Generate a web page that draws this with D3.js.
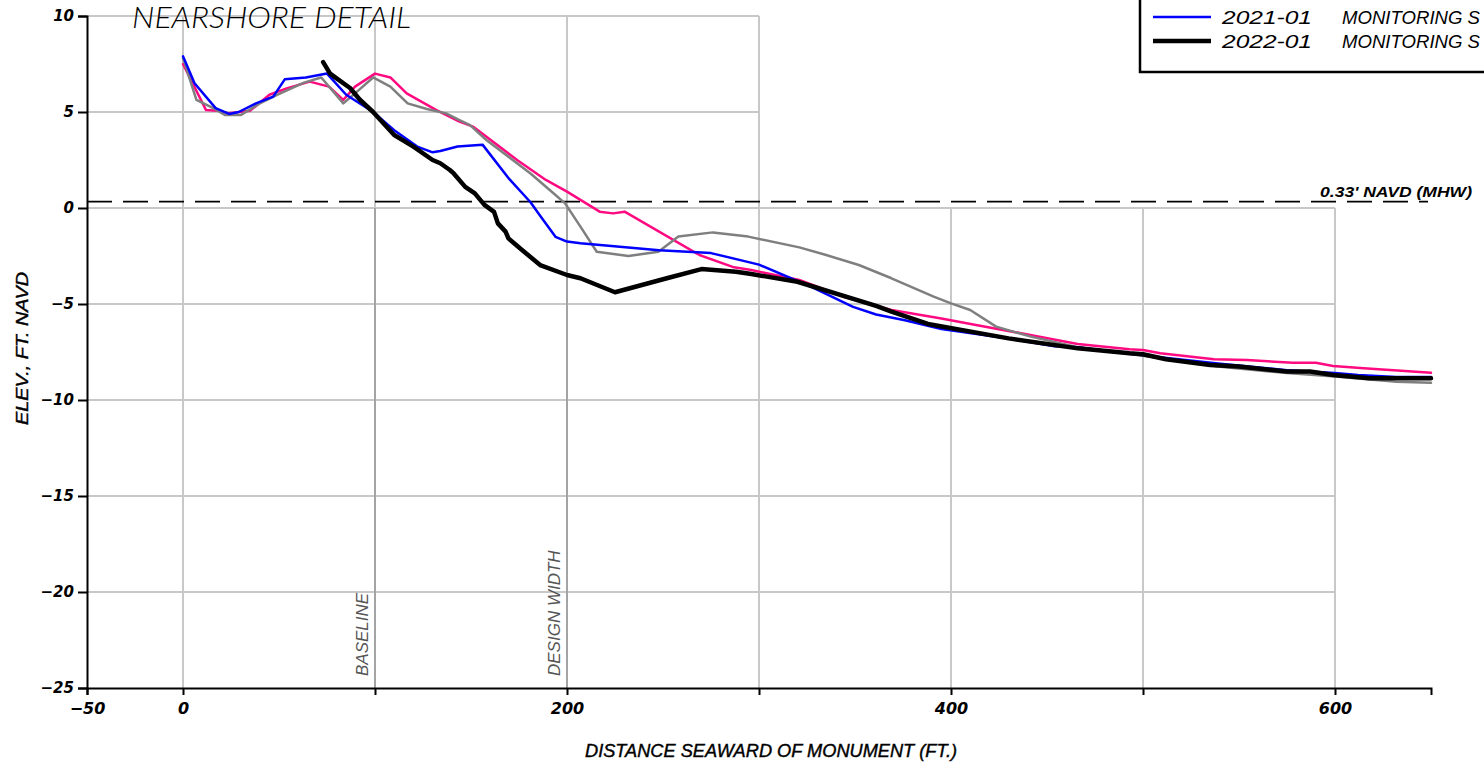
<!DOCTYPE html>
<html>
<head>
<meta charset="utf-8">
<script src="https://cdn.jsdelivr.net/npm/d3@7"></script>
<style>
  html, body { margin: 0; padding: 0; background: #fff; overflow: hidden; }
  svg { display: block; }
  text { font-family: 'Liberation Sans', Arial, sans-serif; font-style: italic; }
</style>
</head>
<body>
<svg id="chart" width="1484" height="765"></svg>
<script>
// ---------------- DATA ----------------
const titleText = "NEARSHORE  DETAIL";
const xLabel = "DISTANCE  SEAWARD  OF  MONUMENT  (FT.)";
const yLabel = "ELEV.,  FT.  NAVD";
const xDomain = [-50, 650];
const yDomain = [-25, 10];
const xTickValues = [-50, 0, 100, 200, 300, 400, 500, 600];
const xTickLabels = ["−50", "0", "", "200", "", "400", "", "600"];
const yTickValues = [10, 5, 0, -5, -10, -15, -20, -25];
const gridXValues = [0, 100, 200, 300, 400, 500, 600];
const gridYValues = [10, 5, 0, -5, -10, -15, -20];
const mhwElevation = 0.33;
const mhwLabel = "0.33'  NAVD  (MHW)";
const refLines = [ { x: 100, label: "BASELINE" }, { x: 200, label: "DESIGN  WIDTH" } ];

// distance (ft), elevation (ft NAVD)
const surveyPink = [[0,7.5],[12,5.1],[18,5.07],[24,4.93],[35,5.07],[45,5.9],[54,6.23],[66,6.58],[76,6.32],[83.5,5.63],[89.6,6.32],[100,7.0],[108,6.8],[116.5,5.97],[132,5.1],[144,4.5],[151,4.24],[174,2.5],[189,1.46],[200,0.85],[207,0.42],[217,-0.19],[224,-0.28],[230,-0.19],[269,-2.45],[287,-3.09],[296,-3.23],[321,-3.75],[344,-4.62],[369,-5.31],[395,-5.75],[413,-6.09],[432,-6.44],[466,-7.08],[493,-7.36],[500,-7.4],[509,-7.57],[537,-7.88],[554,-7.92],[578,-8.06],[590,-8.06],[599,-8.23],[615,-8.35],[650,-8.58]];
const surveyGray = [[0,7.8],[7,5.63],[16,5.19],[22,4.84],[30,4.84],[40,5.45],[49,5.89],[63,6.53],[72,6.8],[83.5,5.45],[89.6,5.97],[99,6.8],[108,6.32],[117,5.45],[127,5.16],[137,4.93],[144,4.58],[149.5,4.32],[158,3.54],[181,1.8],[191,0.94],[199,0.24],[207,-0.97],[215.5,-2.28],[232,-2.5],[247.6,-2.28],[258,-1.49],[276,-1.27],[294.4,-1.49],[321,-2.05],[335,-2.45],[352,-2.97],[369,-3.66],[391,-4.62],[400,-4.97],[410,-5.31],[423.5,-6.18],[441.6,-6.7],[466,-7.25],[500,-7.7],[539,-8.26],[575,-8.6],[600,-8.78],[632,-9.05],[650,-9.1]];
const survey2021 = [[0,7.9],[6,6.5],[17,5.2],[24,4.9],[29,5.0],[38,5.45],[47,5.8],[53,6.7],[64,6.8],[75,7.0],[85,5.9],[99,5.0],[110,4.05],[122,3.2],[130,2.9],[134,2.97],[143,3.2],[156,3.3],[170,1.5],[181,0.3],[186,-0.4],[194,-1.5],[200,-1.75],[207,-1.84],[248,-2.2],[275,-2.35],[300,-2.95],[327,-4.1],[349,-5.15],[361,-5.55],[376,-5.85],[395,-6.3],[430,-6.8],[454,-7.2],[466,-7.25],[498,-7.65],[539,-8.1],[575,-8.45],[600,-8.6],[612,-8.7],[632,-8.8],[650,-8.8]];
const survey2022 = [[73,7.6],[76.6,7.0],[80,6.75],[87,6.25],[92,5.65],[99,5.0],[110,3.8],[120,3.2],[130,2.5],[134,2.33],[139,1.98],[141,1.8],[147,1.1],[152,0.76],[157,0.16],[162,-0.2],[164,-0.8],[168,-1.23],[169.5,-1.58],[175.5,-2.1],[186,-2.97],[200,-3.49],[207,-3.66],[225,-4.39],[252,-3.66],[270,-3.18],[288,-3.32],[296,-3.44],[320,-3.84],[361,-5.1],[369,-5.4],[388,-6.04],[430,-6.79],[466,-7.31],[493,-7.57],[500,-7.62],[512,-7.88],[535,-8.18],[550,-8.26],[575,-8.52],[587,-8.52],[599,-8.7],[618,-8.87],[650,-8.87]];

const seriesNames = ["pink", "gray", "2021-01", "2022-01"];
const seriesData = [surveyPink, surveyGray, survey2021, survey2022];
const legendDates = ["2021-01", "2022-01"];
const legendText = "MONITORING  S";

// ---------------- STYLE ----------------
const seriesStyle = {
  "pink":    { color: "#ff0a80", width: 2.5 },
  "gray":    { color: "#7f7f7f", width: 2.5 },
  "2021-01": { color: "#0000ff", width: 2.5 },
  "2022-01": { color: "#000000", width: 4.5 }
};
const tickFont = "'DejaVu Sans', 'Liberation Sans', sans-serif";

const svg = d3.select("#chart");
const x = d3.scaleLinear().domain(xDomain).range([87, 1431]);
const y = d3.scaleLinear().domain(yDomain).range([688, 16]);

// grid
const grid = svg.append("g");
gridYValues.forEach(v => {
  grid.append("line")
    .attr("x1", x(-50)).attr("x2", v > 0 ? x(300) : x(600))
    .attr("y1", y(v)).attr("y2", y(v))
    .attr("stroke", "#c8c8c8").attr("stroke-width", 2);
});
gridXValues.forEach(v => {
  grid.append("line")
    .attr("x1", x(v)).attr("x2", x(v))
    .attr("y1", v <= 300 ? y(10) : y(0)).attr("y2", y(-25))
    .attr("stroke", "#c8c8c8").attr("stroke-width", 2);
});

// reference lines (baseline, design width)
refLines.forEach(r => {
  svg.append("line")
    .attr("x1", x(r.x)).attr("x2", x(r.x))
    .attr("y1", y(0)).attr("y2", y(-25))
    .attr("stroke", "#a4a4a4").attr("stroke-width", 2);
  svg.append("text")
    .attr("transform", `translate(${x(r.x) - 7},${y(-25) - 12}) rotate(-90)`)
    .attr("font-size", 17).attr("fill", "#555")
    .text(r.label);
});

// MHW dashed line
svg.append("line")
  .attr("x1", x(-50)).attr("x2", 1428)
  .attr("y1", y(mhwElevation)).attr("y2", y(mhwElevation))
  .attr("stroke", "#000").attr("stroke-width", 1.8)
  .attr("stroke-dasharray", "25,11");
svg.append("text")
  .attr("x", 1320).attr("y", y(mhwElevation) - 5)
  .attr("font-size", 15).attr("font-weight", "bold")
  .attr("textLength", 152).attr("lengthAdjust", "spacingAndGlyphs")
  .text(mhwLabel);

// series lines
const line = d3.line().x(d => x(d[0])).y(d => y(d[1]));
seriesData.forEach((data, i) => {
  const st = seriesStyle[seriesNames[i]];
  svg.append("path")
    .datum(data)
    .attr("d", line)
    .attr("fill", "none")
    .attr("stroke", st.color)
    .attr("stroke-width", st.width)
    .attr("stroke-linejoin", "round")
    .attr("stroke-linecap", "round");
});

// axes
const xAxis = d3.axisBottom(x).tickValues(xTickValues)
  .tickFormat((d, i) => xTickLabels[i]).tickSize(7).tickPadding(8);
const gx = svg.append("g").attr("transform", `translate(0,${y(-25)})`).call(xAxis);
gx.select(".domain").attr("stroke", "#000").attr("stroke-width", 2);
gx.selectAll(".tick line").attr("stroke", "#000").attr("stroke-width", 2);
gx.selectAll(".tick text").style("font-size", "16px").style("font-weight", "bold")
  .style("font-family", tickFont).style("font-style", "italic").attr("fill", "#000");

const yAxis = d3.axisLeft(y).tickValues(yTickValues)
  .tickFormat(d3.format("d")).tickSize(9).tickPadding(4);
const gy = svg.append("g").attr("transform", `translate(${x(-50)},0)`).call(yAxis);
gy.select(".domain").attr("stroke", "#000").attr("stroke-width", 2);
gy.selectAll(".tick line").attr("stroke", "#000").attr("stroke-width", 2);
gy.selectAll(".tick text").style("font-size", "15px").style("font-weight", "bold")
  .style("font-family", tickFont).style("font-style", "italic").attr("fill", "#000");

// axis labels
svg.append("text")
  .attr("x", 585).attr("y", 757)
  .attr("font-size", 18).attr("stroke", "#000").attr("stroke-width", 0.4)
  .attr("textLength", 372).attr("lengthAdjust", "spacingAndGlyphs")
  .text(xLabel);
svg.append("text")
  .attr("transform", `translate(28,425) rotate(-90)`)
  .attr("font-size", 17).attr("stroke", "#000").attr("stroke-width", 0.4)
  .attr("textLength", 153).attr("lengthAdjust", "spacingAndGlyphs")
  .text(yLabel);

// title
svg.append("text")
  .attr("x", 132).attr("y", 28)
  .attr("font-size", 29)
  .style("font-family", "Lato, 'Liberation Sans', sans-serif")
  .attr("font-weight", 300)
  .attr("textLength", 279).attr("lengthAdjust", "spacingAndGlyphs")
  .text(titleText);

// legend
const lg = svg.append("g");
lg.append("rect").attr("x", 1140).attr("y", -50).attr("width", 400).attr("height", 122)
  .attr("fill", "#fff").attr("stroke", "#000").attr("stroke-width", 2.5);
legendDates.forEach((dt, i) => {
  const st = seriesStyle[dt];
  const ly = 17 + i * 24;
  lg.append("line").attr("x1", 1153).attr("x2", 1211).attr("y1", ly).attr("y2", ly)
    .attr("stroke", st.color).attr("stroke-width", st.width);
  lg.append("text").attr("x", 1222).attr("y", ly + 7).attr("font-size", 19)
    .attr("textLength", 90).attr("lengthAdjust", "spacingAndGlyphs").text(dt);
  lg.append("text").attr("x", 1342).attr("y", ly + 7).attr("font-size", 19)
    .attr("textLength", 138).attr("lengthAdjust", "spacingAndGlyphs").text(legendText);
});
</script>
</body>
</html>
